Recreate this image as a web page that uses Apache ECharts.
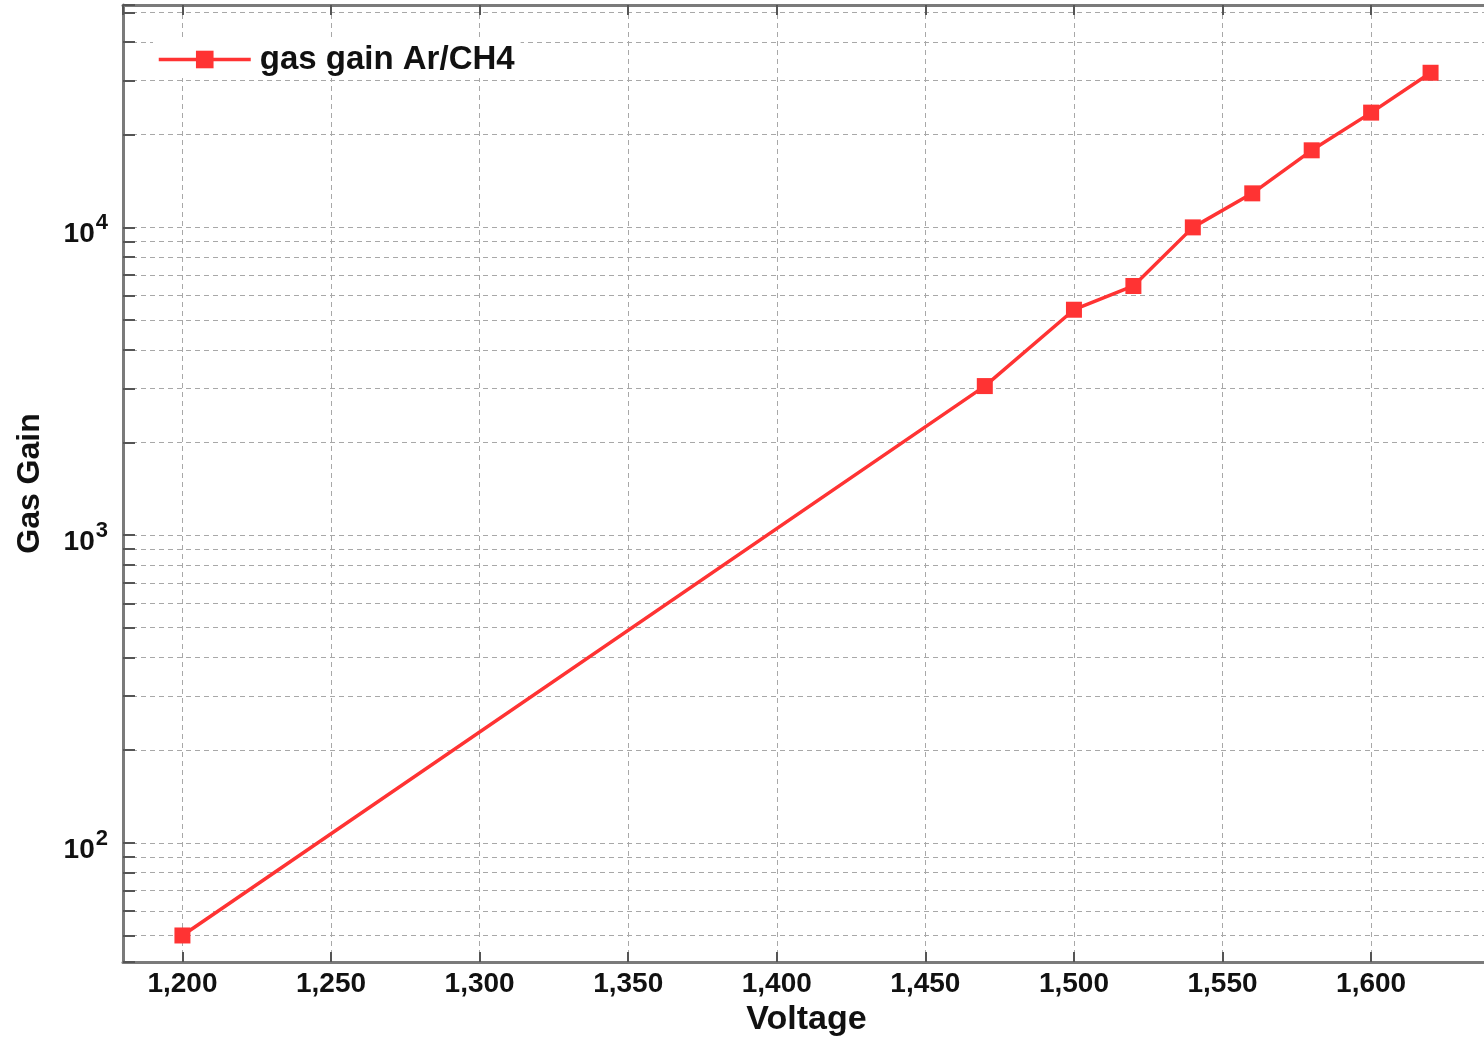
<!DOCTYPE html>
<html>
<head>
<meta charset="utf-8">
<script src="https://cdn.jsdelivr.net/npm/echarts@6/dist/echarts.min.js"></script>
<style>
  html, body { margin: 0; padding: 0; background: #fff; }
  #chart { width: 1484px; height: 1038px; }
</style>
</head>
<body>
<div id="chart"></div>
<script>
// ---- data ----
var voltage = [1200, 1470, 1500, 1520, 1540, 1560, 1580, 1600, 1620];
var gasGain = [50, 3050, 5400, 6450, 10000, 12900, 17800, 23600, 31800];
var seriesName = 'gas gain Ar/CH4';
var xAxisTitle = 'Voltage';
var yAxisTitle = 'Gas Gain';
var yMajorTicks = [100, 1000, 10000];
var yMajorExponents = ['2', '3', '4'];

var FONT = '"Liberation Sans", Arial, Helvetica, sans-serif';
var RED = '#ff3333';
var FRAME = '#7a7a7a';
var GRID = '#a8a8a8';

var chart = echarts.init(document.getElementById('chart'), null, { renderer: 'canvas' });

function yLabel(v) {
  for (var i = 0; i < yMajorTicks.length; i++) {
    if (Math.abs(v - yMajorTicks[i]) < 1e-6 * yMajorTicks[i]) {
      return '{b|10}{e|' + yMajorExponents[i] + '}';
    }
  }
  return '';
}

var option = {
  backgroundColor: '#fff',
  animation: false,
  textStyle: { fontFamily: FONT },
  grid: {
    left: 123, right: -6, top: 5, bottom: 76,
    containLabel: false,
    outerBoundsMode: 'none'
  },
  legend: {
    left: 153, top: 41,
    backgroundColor: '#fff',
    padding: [2, 6, 2, 4],
    itemWidth: 92, itemHeight: 22,
    itemGap: 10,
    lineStyle: { width: 3.5 },
    textStyle: { fontFamily: FONT, fontWeight: 'bold', fontSize: 33, color: '#111', padding: [0, 0, 0, 4] },
    data: [seriesName]
  },
  xAxis: [{
    type: 'value',
    min: 1180, max: 1640,
    splitNumber: 9,
    name: xAxisTitle,
    nameLocation: 'middle',
    nameGap: 40,
    nameTextStyle: { fontFamily: FONT, fontWeight: 'bold', fontSize: 34, color: '#111' },
    axisLine: { show: true, onZero: false, lineStyle: { color: FRAME, width: 3 } },
    axisTick: { show: true, inside: true, length: 10, lineStyle: { color: '#555', width: 2 } },
    axisLabel: {
      showMinLabel: false, showMaxLabel: false,
      margin: 8,
      fontFamily: FONT, fontWeight: 'bold', fontSize: 28, color: '#111',
      formatter: function (v) { return v.toLocaleString('en-US'); }
    },
    splitLine: { show: true, lineStyle: { color: GRID, width: 1, type: [5, 4] } }
  }, {
    type: 'value',
    position: 'top',
    min: 1180, max: 1640,
    splitNumber: 9,
    axisLine: { show: true, onZero: false, lineStyle: { color: FRAME, width: 3 } },
    axisTick: { show: true, inside: true, length: 10, lineStyle: { color: '#555', width: 2 } },
    axisLabel: { show: false },
    splitLine: { show: false }
  }],
  yAxis: [{
    type: 'log',
    logBase: 10,
    min: 41, max: 52800,
    name: yAxisTitle,
    nameLocation: 'middle',
    nameGap: 77,
    nameRotate: 90,
    nameTextStyle: { fontFamily: FONT, fontWeight: 'bold', fontSize: 32, color: '#111' },
    axisLine: { show: true, onZero: false, lineStyle: { color: FRAME, width: 3 } },
    axisTick: { show: true, inside: true, length: 12, lineStyle: { color: '#555', width: 2 } },
    minorTick: { show: true, splitNumber: 9, length: 12, lineStyle: { color: '#555', width: 2 } },
    minorSplitLine: { show: true, lineStyle: { color: GRID, width: 1, type: [5, 4] } },
    axisLabel: {
      showMinLabel: false, showMaxLabel: false,
      margin: 15,
      formatter: yLabel,
      rich: {
        b: { fontFamily: FONT, fontWeight: 'bold', fontSize: 28, color: '#111', verticalAlign: 'bottom' },
        e: { fontFamily: FONT, fontWeight: 'bold', fontSize: 22, color: '#111', verticalAlign: 'top', padding: [6, 0, 14, 1] }
      }
    },
    splitLine: { show: true, lineStyle: { color: GRID, width: 1, type: [5, 4] } }
  }],
  series: [{
    name: seriesName,
    type: 'line',
    data: voltage.map(function (x, i) { return [x, gasGain[i]]; }),
    symbol: 'rect',
    symbolSize: 16,
    itemStyle: { color: RED },
    lineStyle: { color: RED, width: 3.5 },
    z: 5
  }]
};

chart.setOption(option);
</script>
</body>
</html>
